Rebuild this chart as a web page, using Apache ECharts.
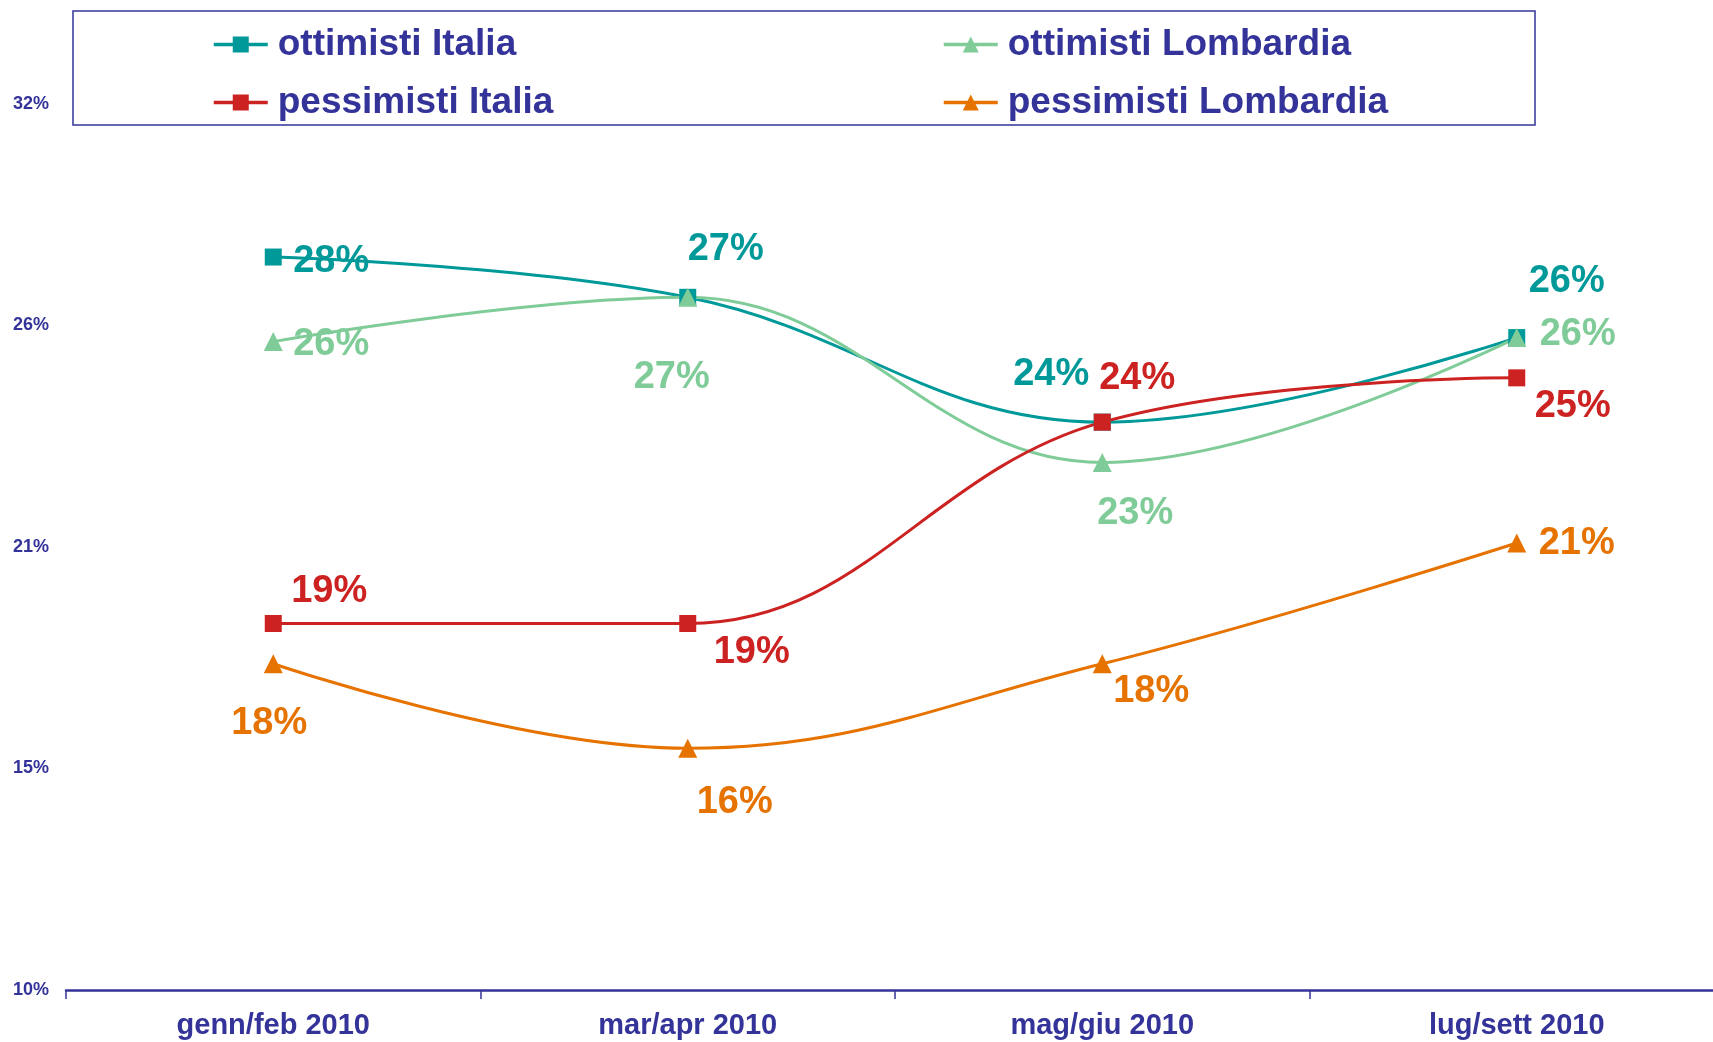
<!DOCTYPE html>
<html>
<head>
<meta charset="utf-8">
<script src="https://cdn.jsdelivr.net/npm/echarts@6/dist/echarts.min.js"></script>
<style>
html,body{margin:0;padding:0;background:#fff;overflow:hidden;}
#chart{width:1730px;height:1042px;}
</style>
</head>
<body>
<div id="chart"></div>
<script>
// ---- data ----
var categories = ['genn/feb 2010', 'mar/apr 2010', 'mag/giu 2010', 'lug/sett 2010'];
var ottimistiItalia = [28.2, 27.2, 24.1, 26.2];
var ottimistiLombardia = [26.1, 27.2, 23.1, 26.2];
var pessimistiItalia = [19.1, 19.1, 24.1, 25.2];
var pessimistiLombardia = [18.1, 16.0, 18.1, 21.1];
var yTickLabels = ['10%', '15%', '21%', '26%', '32%'];

// ---- layout (label offsets in px, per point) ----
var offOI = [[58, 4], [38, -48], [-51, -48], [50, -56]];
var offOL = [[58, 3], [-16, 80], [33, 51], [61, -3]];
var offPI = [[56, -32], [64, 29], [35, -44], [56, 29]];
var offPL = [[-4, 60], [47, 54], [49, 28], [60, 1]];

var FONT = "'Liberation Sans', Arial, sans-serif";
var BLUE = '#333399';

function mk(name, values, color, symbol, size, offs) {
  return {
    name: name,
    type: 'line',
    smooth: 0.4,
    symbol: symbol,
    symbolSize: size,
    lineStyle: { color: color, width: 3 },
    itemStyle: { color: color },
    data: values.map(function (v, i) {
      return {
        value: v,
        label: {
          show: true,
          position: 'inside',
          align: 'center',
          verticalAlign: 'middle',
          offset: offs[i],
          formatter: function (p) { return Math.round(p.value) + '%'; },
          color: color,
          fontFamily: FONT,
          fontWeight: 'bold',
          fontSize: 38
        }
      };
    })
  };
}

var chart = echarts.init(document.getElementById('chart'), null, { renderer: 'canvas' });
var legendCommon = {
  orient: 'vertical',
  itemWidth: 54,
  itemHeight: 20,
  itemGap: 21,
  selectedMode: false,
  lineStyle: { width: 3.5 },
  textStyle: { color: BLUE, fontFamily: FONT, fontWeight: 'bold', fontSize: 37, lineHeight: 36, padding: [0, 0, 0, 5] }
};
chart.setOption({
  animation: false,
  backgroundColor: '#fff',
  graphic: [{
    type: 'rect',
    shape: { x: 73, y: 11, width: 1462, height: 114 },
    style: { fill: 'none', stroke: BLUE, lineWidth: 1.5 },
    z: 0
  }],
  legend: [
    Object.assign({ left: 207, top: 21, data: ['ottimisti Italia', 'pessimisti Italia'] }, legendCommon),
    Object.assign({ left: 937, top: 21, data: ['ottimisti Lombardia', 'pessimisti Lombardia'] }, legendCommon)
  ],
  grid: { left: 66, top: 104, width: 1658, height: 886, containLabel: false },
  xAxis: {
    type: 'category',
    data: categories,
    boundaryGap: true,
    axisLine: { lineStyle: { color: BLUE, width: 2.5 } },
    axisTick: { show: true, length: 9, lineStyle: { color: BLUE, width: 1.5 } },
    axisLabel: { color: BLUE, fontFamily: FONT, fontWeight: 'bold', fontSize: 29, margin: 21 }
  },
  yAxis: {
    type: 'value',
    min: 10,
    max: 32,
    interval: 5.5,
    axisLine: { show: false },
    axisTick: { show: false },
    splitLine: { show: false },
    axisLabel: {
      color: BLUE, fontFamily: FONT, fontWeight: 'bold', fontSize: 18,
      align: 'left', margin: 53,
      formatter: function (v, i) { return yTickLabels[i]; }
    }
  },
  series: [
    mk('ottimisti Italia', ottimistiItalia, '#009999', 'rect', 17, offOI),
    mk('ottimisti Lombardia', ottimistiLombardia, '#80CC99', 'triangle', 19, offOL),
    mk('pessimisti Italia', pessimistiItalia, '#CC2222', 'rect', 17, offPI),
    mk('pessimisti Lombardia', pessimistiLombardia, '#E67300', 'triangle', 19, offPL)
  ]
});
</script>
</body>
</html>
